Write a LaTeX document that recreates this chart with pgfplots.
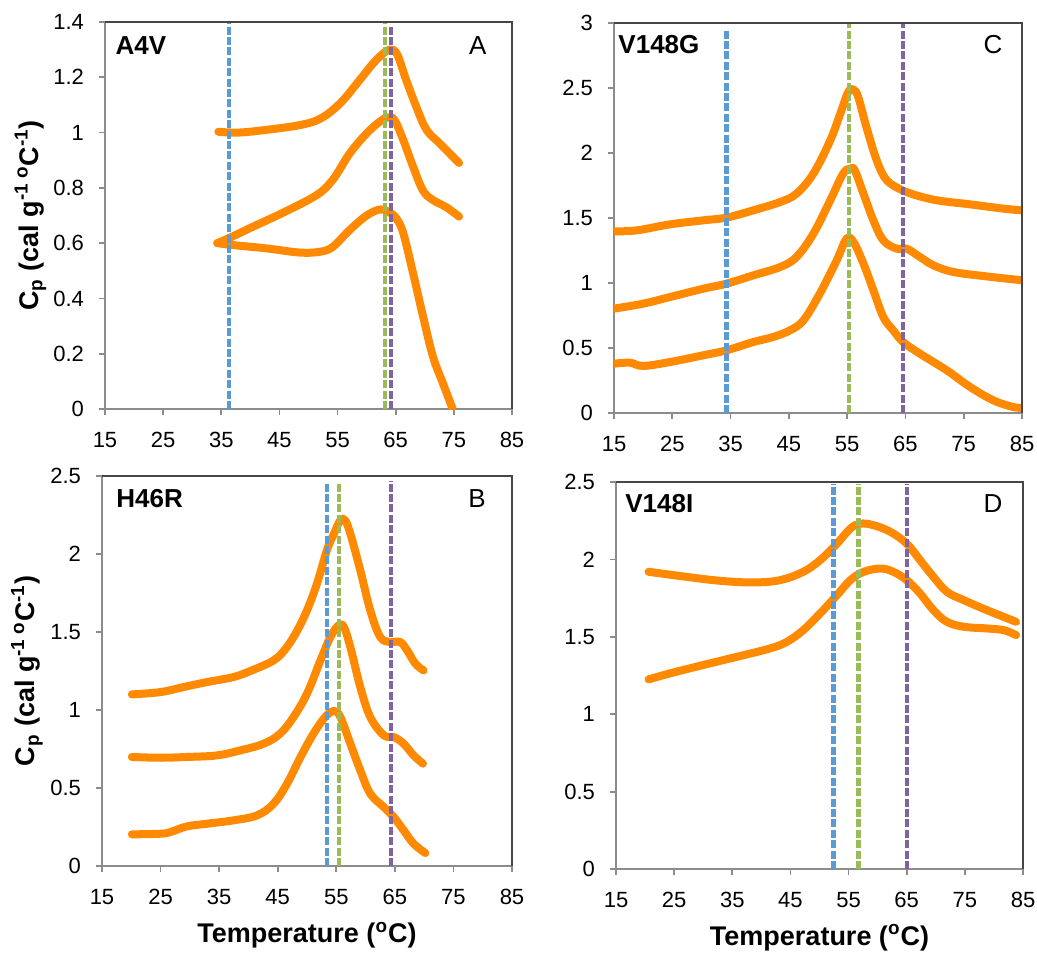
\documentclass[border=0pt]{standalone}
\usepackage{pgfplots}
\pgfplotsset{compat=1.18}
\usepackage{fontspec}
\setmainfont{Liberation Sans}
\definecolor{cporange}{RGB}{255,137,0}
\definecolor{vblue}{RGB}{91,155,213}
\definecolor{vgreen}{RGB}{155,187,89}
\definecolor{vpurple}{RGB}{128,100,162}
\definecolor{axgray}{RGB}{140,140,140}
\definecolor{axdark}{RGB}{70,70,70}
\tikzset{
  pname/.style={anchor=base west, inner sep=0pt, font=\fontsize{13}{15}\selectfont\bfseries},
  pletter/.style={anchor=base, inner sep=0pt, font=\fontsize{13}{15}\selectfont},
}
\pgfplotsset{
  panel/.style={
    scale only axis,
    xmin=15, xmax=85, xtick={15,25,...,85},
    ymin=0,
    axis x line*=bottom, axis y line*=left,
    axis line style={draw=axgray, line width=0.9pt},
    tick style={draw=axgray, line width=0.9pt},
    major tick length=3pt,
    tick align=outside,
    clip mode=individual,
    /pgf/number format/assume math mode=true,
    ticklabel style={font=\fontsize{11}{13}\selectfont},
    yticklabel style={xshift=-4pt},
    xticklabel style={yshift=-5pt},
    label style={font=\fontsize{13.5}{15}\selectfont\bfseries},
    ylabel style={at={(axis description cs:-0.183,0.5)}, anchor=center},
    xlabel style={at={(axis description cs:0.5,-0.178)}, anchor=center},
  },
  cp/.style={color=cporange, line width=4pt, line join=round, line cap=round, smooth, tension=0.6},
  vl/.style={line width=2.1pt, dash pattern=on 4pt off 1.2pt},
}
\newcommand{\frametr}{\draw[axdark, line width=0.9pt] (rel axis cs:0,1) -- (rel axis cs:1,1) -- (rel axis cs:1,0);}
\begin{document}
\begin{tikzpicture}
\useasboundingbox (0,0) rectangle (518.5pt,-476.5pt);
% ---------------- Panel A ----------------
\begin{axis}[panel, at={(52.5pt,-204.5pt)}, anchor=south west,
  width=203.5pt, height=193.5pt, ymax=1.4, ytick={0,0.2,...,1.4},
  yticklabels={0,0.2,0.4,0.6,0.8,1,1.2,1.4},
  ylabel={C\textsubscript{p} (cal g\textsuperscript{-1 o}C\textsuperscript{-1})}]
\addplot[cp] coordinates {(34.5,1.003)(38,1.0)(42.8,1.01)(48.5,1.027)(52,1.05)(55.4,1.105)(58.8,1.19)(61.1,1.25)(62.8,1.285)(63.9,1.30)(65.2,1.285)(66.8,1.19)(68.6,1.09)(70.3,1.01)(72.6,0.96)(75.9,0.89)};
\addplot[cp] coordinates {(34.3,0.60)(36.5,0.62)(40.5,0.66)(45.6,0.71)(51.4,0.774)(54.2,0.83)(57.1,0.925)(60,0.997)(62.3,1.04)(63.7,1.055)(64.8,1.045)(66.3,0.973)(68,0.876)(69.7,0.79)(71.4,0.756)(73.7,0.73)(75.9,0.696)};
\addplot[cp] coordinates {(34.3,0.60)(37,0.593)(42.8,0.581)(48.5,0.566)(52,0.569)(54.2,0.587)(57.1,0.648)(60,0.70)(62.3,0.722)(63.7,0.714)(65.1,0.69)(66.3,0.636)(68,0.49)(69.7,0.335)(71.4,0.19)(73.1,0.094)(74.8,0.0)};
\addplot[vl, vblue] coordinates {(36.3,0)(36.3,1.4)};
\addplot[vl, vgreen] coordinates {(63.2,0)(63.2,1.4)};
\addplot[vl, vpurple] coordinates {(64.2,0)(64.2,1.39)};
\frametr
\node[pname] at (rel axis cs:0.025,0.917) {A4V};
\node[pletter] at (rel axis cs:0.916,0.917) {A};
\end{axis}
% ---------------- Panel C ----------------
\begin{axis}[panel, at={(307pt,-206.5pt)}, anchor=south west,
  width=204pt, height=195pt, ymax=3, ytick={0,0.5,...,3},
  yticklabels={0,0.5,1,1.5,2,2.5,3}]
\addplot[cp] coordinates {(15,1.397)(18.9,1.405)(24.6,1.451)(30.3,1.482)(34.3,1.503)(38.9,1.559)(43.5,1.623)(46.3,1.687)(49.2,1.841)(52.1,2.097)(53.8,2.30)(55.2,2.47)(56.1,2.487)(56.9,2.43)(58.3,2.20)(60.1,1.94)(61.8,1.79)(64.6,1.71)(66.4,1.68)(70.4,1.636)(76.1,1.605)(81.8,1.572)(85,1.559)};
\addplot[cp] coordinates {(15,0.803)(20,0.841)(24.6,0.892)(30.3,0.956)(34.3,0.995)(38.9,1.059)(43.5,1.123)(46.3,1.20)(49.2,1.379)(52.1,1.636)(54.3,1.841)(55.5,1.879)(56.3,1.867)(57.8,1.687)(59.5,1.482)(61.2,1.328)(63.5,1.264)(65.2,1.264)(67.5,1.20)(69.8,1.136)(73.2,1.085)(78.9,1.051)(85,1.021)};
\addplot[cp] coordinates {(15,0.379)(17.7,0.387)(20,0.362)(24.6,0.392)(30.3,0.444)(34.3,0.482)(38.9,0.546)(42.3,0.585)(45.2,0.636)(47.5,0.713)(50.3,0.918)(53.2,1.174)(54.9,1.341)(56.1,1.315)(57.8,1.149)(59.5,0.944)(61.2,0.738)(62.9,0.636)(64.6,0.546)(67.5,0.456)(72.1,0.328)(76.1,0.20)(80.1,0.097)(83.5,0.046)(85,0.041)};
\addplot[vl, vblue] coordinates {(34.3,0)(34.3,2.95)};
\addplot[vl, vgreen] coordinates {(55.3,0)(55.3,3)};
\addplot[vl, vpurple] coordinates {(64.6,0)(64.6,3)};
\frametr
\node[pname] at (rel axis cs:0.01,0.923) {V148G};
\node[pletter] at (rel axis cs:0.929,0.923) {C};
\end{axis}
% ---------------- Panel B ----------------
\begin{axis}[panel, at={(51pt,-433pt)}, anchor=south west,
  width=205pt, height=195pt, ymax=2.5, ytick={0,0.5,...,2.5},
  yticklabels={0,0.5,1,1.5,2,2.5},
  ylabel={C\textsubscript{p} (cal g\textsuperscript{-1 o}C\textsuperscript{-1})},
  xlabel={Temperature (\textsuperscript{o}C)}]
\addplot[cp] coordinates {(20.1,1.100)(25,1.115)(28.9,1.147)(32.9,1.179)(37.5,1.212)(40.9,1.259)(44.3,1.318)(46.3,1.39)(48.2,1.50)(50,1.639)(51.7,1.81)(53.4,2.024)(54.6,2.13)(55.7,2.216)(56.5,2.216)(57.4,2.13)(59.1,1.895)(60.8,1.639)(62.5,1.468)(64.2,1.436)(65.9,1.436)(67.1,1.382)(68.5,1.297)(69.9,1.254)};
\addplot[cp] coordinates {(20.1,0.699)(25,0.694)(29.5,0.699)(34.6,0.709)(38.6,0.741)(42.6,0.784)(45.4,0.848)(47.7,0.955)(50,1.105)(52.3,1.318)(54,1.468)(55.4,1.543)(56.3,1.532)(57.4,1.404)(59.1,1.147)(60.8,0.955)(63.1,0.838)(64.8,0.827)(66.5,0.784)(68.2,0.709)(69.8,0.656)};
\addplot[cp] coordinates {(20.1,0.203)(25,0.207)(26.7,0.218)(29.5,0.254)(32.9,0.271)(37.5,0.293)(41.5,0.325)(44.3,0.40)(46.6,0.528)(48.9,0.699)(51.1,0.848)(53.1,0.955)(54.6,0.994)(55.7,0.955)(57.4,0.784)(59.1,0.613)(60.8,0.464)(63.1,0.378)(64.8,0.314)(66.5,0.229)(68.2,0.143)(70.2,0.083)};
\addplot[vl, vblue] coordinates {(53.4,0)(53.4,2.455)};
\addplot[vl, vgreen] coordinates {(55.5,0)(55.5,2.46)};
\addplot[vl, vpurple] coordinates {(64.3,0)(64.3,2.47)};
\frametr
\node[pname] at (rel axis cs:0.034,0.918) {H46R};
\node[pletter] at (rel axis cs:0.915,0.918) {B};
\end{axis}
% ---------------- Panel D ----------------
\begin{axis}[panel, at={(308pt,-434.5pt)}, anchor=south west,
  width=203.5pt, height=193.5pt, ymax=2.5, ytick={0,0.5,...,2.5},
  yticklabels={0,0.5,1,1.5,2,2.5},
  xlabel={Temperature (\textsuperscript{o}C)}]
\addplot[cp] coordinates {(20.6,1.92)(27.2,1.887)(32.9,1.862)(38.6,1.851)(43.2,1.866)(47.2,1.92)(50.1,1.995)(53,2.102)(55.3,2.199)(57,2.231)(59.3,2.221)(62.2,2.178)(65,2.102)(67.3,1.995)(69.6,1.887)(71.9,1.791)(74.8,1.737)(78.8,1.672)(83.8,1.597)};
\addplot[cp] coordinates {(20.6,1.225)(24.3,1.264)(30,1.318)(35.8,1.371)(41.5,1.425)(44.4,1.468)(47.2,1.543)(50.1,1.651)(53,1.769)(55.3,1.866)(57.6,1.92)(60.5,1.941)(62.7,1.92)(65,1.866)(67.3,1.78)(69.6,1.672)(71.9,1.597)(74.8,1.565)(78.8,1.554)(81.7,1.543)(83.8,1.511)};
\addplot[vl, vblue] coordinates {(52.4,0)(52.4,2.49)};
\addplot[vl, vgreen] coordinates {(56.7,0)(56.7,2.49)};
\addplot[vl, vpurple] coordinates {(65.0,0)(65.0,2.49)};
\frametr
\node[pname] at (rel axis cs:0.022,0.92) {V148I};
\node[pletter] at (rel axis cs:0.926,0.92) {D};
\end{axis}
\end{tikzpicture}
\end{document}
